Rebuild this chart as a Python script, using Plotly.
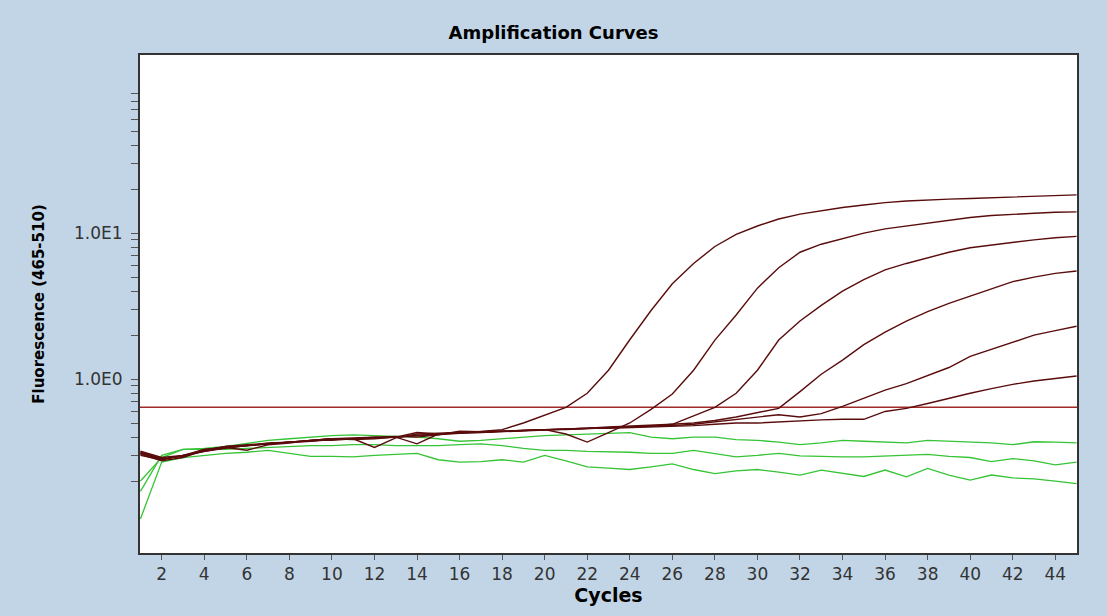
import plotly.graph_objects as go

cycles = list(range(1, 46))

# Amplifying samples (fluorescence 465-510)
sample_a = [0.315, 0.285, 0.295, 0.32, 0.335, 0.35, 0.36, 0.37, 0.375, 0.385,
            0.39, 0.395, 0.40, 0.41, 0.42, 0.425, 0.435, 0.45, 0.50, 0.565,
            0.64, 0.80, 1.15, 1.86, 2.95, 4.5, 6.2, 8.1, 9.8, 11.2,
            12.5, 13.5, 14.3, 15.0, 15.6, 16.2, 16.6, 16.9, 17.1, 17.3,
            17.5, 17.7, 18.0, 18.2, 18.3]
sample_b = [0.305, 0.275, 0.29, 0.325, 0.345, 0.35, 0.36, 0.372, 0.38, 0.39,
            0.385, 0.39, 0.40, 0.43, 0.42, 0.43, 0.432, 0.44, 0.445, 0.45,
            0.42, 0.37, 0.43, 0.50, 0.62, 0.79, 1.15, 1.85, 2.75, 4.2,
            5.8, 7.4, 8.4, 9.2, 10.0, 10.7, 11.2, 11.7, 12.3, 12.8,
            13.2, 13.5, 13.7, 13.9, 14.0]
sample_c = [0.32, 0.29, 0.30, 0.33, 0.34, 0.325, 0.355, 0.365, 0.38, 0.39,
            0.395, 0.40, 0.405, 0.40, 0.415, 0.43, 0.435, 0.44, 0.44, 0.445,
            0.455, 0.46, 0.465, 0.47, 0.475, 0.49, 0.56, 0.64, 0.80, 1.15,
            1.85, 2.5, 3.2, 4.0, 4.8, 5.6, 6.2, 6.8, 7.4, 7.95,
            8.3, 8.7, 9.0, 9.3, 9.5]
sample_d = [0.31, 0.28, 0.30, 0.32, 0.345, 0.355, 0.36, 0.37, 0.38, 0.38,
            0.39, 0.34, 0.395, 0.42, 0.425, 0.43, 0.43, 0.435, 0.44, 0.45,
            0.455, 0.46, 0.47, 0.475, 0.48, 0.49, 0.50, 0.52, 0.55, 0.59,
            0.63, 0.82, 1.08, 1.35, 1.72, 2.1, 2.5, 2.9, 3.3, 3.7,
            4.15, 4.65, 5.0, 5.3, 5.5]
sample_e = [0.30, 0.28, 0.30, 0.32, 0.34, 0.35, 0.365, 0.37, 0.375, 0.39,
            0.39, 0.40, 0.40, 0.36, 0.42, 0.425, 0.43, 0.44, 0.445, 0.45,
            0.45, 0.455, 0.46, 0.47, 0.48, 0.48, 0.49, 0.51, 0.53, 0.55,
            0.57, 0.55, 0.58, 0.65, 0.74, 0.84, 0.93, 1.05, 1.2, 1.43,
            1.6, 1.8, 2.0, 2.15, 2.3]
sample_f = [0.31, 0.285, 0.295, 0.33, 0.34, 0.35, 0.36, 0.37, 0.38, 0.39,
            0.39, 0.395, 0.40, 0.41, 0.415, 0.44, 0.435, 0.44, 0.445, 0.45,
            0.45, 0.46, 0.46, 0.465, 0.47, 0.47, 0.48, 0.49, 0.50, 0.50,
            0.51, 0.52, 0.525, 0.53, 0.53, 0.60, 0.63, 0.68, 0.74, 0.80,
            0.86, 0.92, 0.97, 1.01, 1.05]

# Negative samples
neg_1 = [0.20, 0.29, 0.33, 0.335, 0.345, 0.36, 0.38, 0.39, 0.40, 0.41,
         0.415, 0.41, 0.405, 0.40, 0.39, 0.375, 0.38, 0.39, 0.40, 0.41,
         0.415, 0.42, 0.425, 0.43, 0.40, 0.39, 0.40, 0.40, 0.385, 0.38,
         0.37, 0.355, 0.365, 0.38, 0.375, 0.37, 0.365, 0.38, 0.375, 0.372,
         0.365, 0.355, 0.372, 0.37, 0.365]
neg_2 = [0.17, 0.30, 0.33, 0.33, 0.33, 0.335, 0.34, 0.345, 0.35, 0.35,
         0.355, 0.355, 0.35, 0.35, 0.35, 0.355, 0.36, 0.35, 0.335, 0.325,
         0.325, 0.32, 0.318, 0.315, 0.31, 0.31, 0.325, 0.31, 0.293, 0.30,
         0.31, 0.298, 0.295, 0.293, 0.293, 0.298, 0.303, 0.305, 0.295, 0.29,
         0.272, 0.285, 0.275, 0.258, 0.27]
neg_3 = [0.11, 0.27, 0.29, 0.30, 0.31, 0.315, 0.325, 0.31, 0.295, 0.295,
         0.293, 0.30, 0.305, 0.31, 0.28, 0.27, 0.272, 0.28, 0.27, 0.30,
         0.275, 0.25, 0.245, 0.24, 0.25, 0.262, 0.24, 0.225, 0.235, 0.24,
         0.23, 0.22, 0.238, 0.225, 0.215, 0.238, 0.214, 0.244, 0.22, 0.203,
         0.22, 0.21, 0.207, 0.20, 0.192]

threshold = 0.64

x_ticks = list(range(2, 45, 2))
y_major = [1, 10]
y_major_text = ["1.0E0", "1.0E1"]
y_minor = [0.2, 0.3, 0.4, 0.5, 0.6, 0.7, 0.8, 0.9,
           2, 3, 4, 5, 6, 7, 8, 9,
           20, 30, 40, 50, 60, 70, 80, 90]

positives = [sample_a, sample_b, sample_c, sample_d, sample_e, sample_f]
negatives = [neg_1, neg_2, neg_3]

fig = go.Figure()
for s in negatives:
    fig.add_trace(go.Scatter(x=cycles, y=s, mode="lines",
                             line=dict(color="#36c436", width=1.3),
                             showlegend=False, hoverinfo="skip"))
for s in positives:
    fig.add_trace(go.Scatter(x=cycles, y=s, mode="lines",
                             line=dict(color="#5a0c0c", width=1.4),
                             showlegend=False, hoverinfo="skip"))

fig.add_hline(y=threshold, line=dict(color="#a02a2a", width=1.5), layer="below")

axis_font = dict(family="DejaVu Sans", size=17, color="#333333")

fig.update_layout(
    width=1107, height=616,
    paper_bgcolor="#c2d5e6",
    plot_bgcolor="#ffffff",
    margin=dict(l=140, r=30, t=55, b=63),
    title=dict(text="<b>Amplification Curves</b>",
               font=dict(family="DejaVu Sans", size=18, color="#000000"),
               x=0.5, xref="container", xanchor="center",
               y=1 - 33 / 616, yref="container", yanchor="middle"),
    xaxis=dict(range=[0.98, 45.02], tickmode="array", tickvals=x_ticks,
               ticks="outside", ticklen=5, tickcolor="#555555", tickwidth=1,
               showline=True, linecolor="#333333", linewidth=2, mirror=True,
               showgrid=False, zeroline=False, tickfont=axis_font,
               title=dict(text="<b>Cycles</b>", standoff=0,
                          font=dict(family="DejaVu Sans", size=19, color="#000000"))),
    yaxis=dict(type="log", range=[-1.192, 2.221], tickmode="array",
               tickvals=y_major, ticktext=y_major_text,
               ticks="outside", ticklen=7, tickcolor="#555555", tickwidth=1,
               ticklabelstandoff=5,
               minor=dict(tickmode="array", tickvals=y_minor, ticks="outside",
                          ticklen=7, tickcolor="#555555", tickwidth=1, showgrid=False),
               showline=True, linecolor="#333333", linewidth=2, mirror=True,
               showgrid=False, zeroline=False, tickfont=axis_font,
               title=dict(text="<b>Fluorescence (465-510)</b>", standoff=26,
                          font=dict(family="DejaVu Sans", size=15, color="#000000"))),
)

fig.write_html("out.html", config={"displayModeBar": False},
               post_script="document.body.style.margin='0px';")
